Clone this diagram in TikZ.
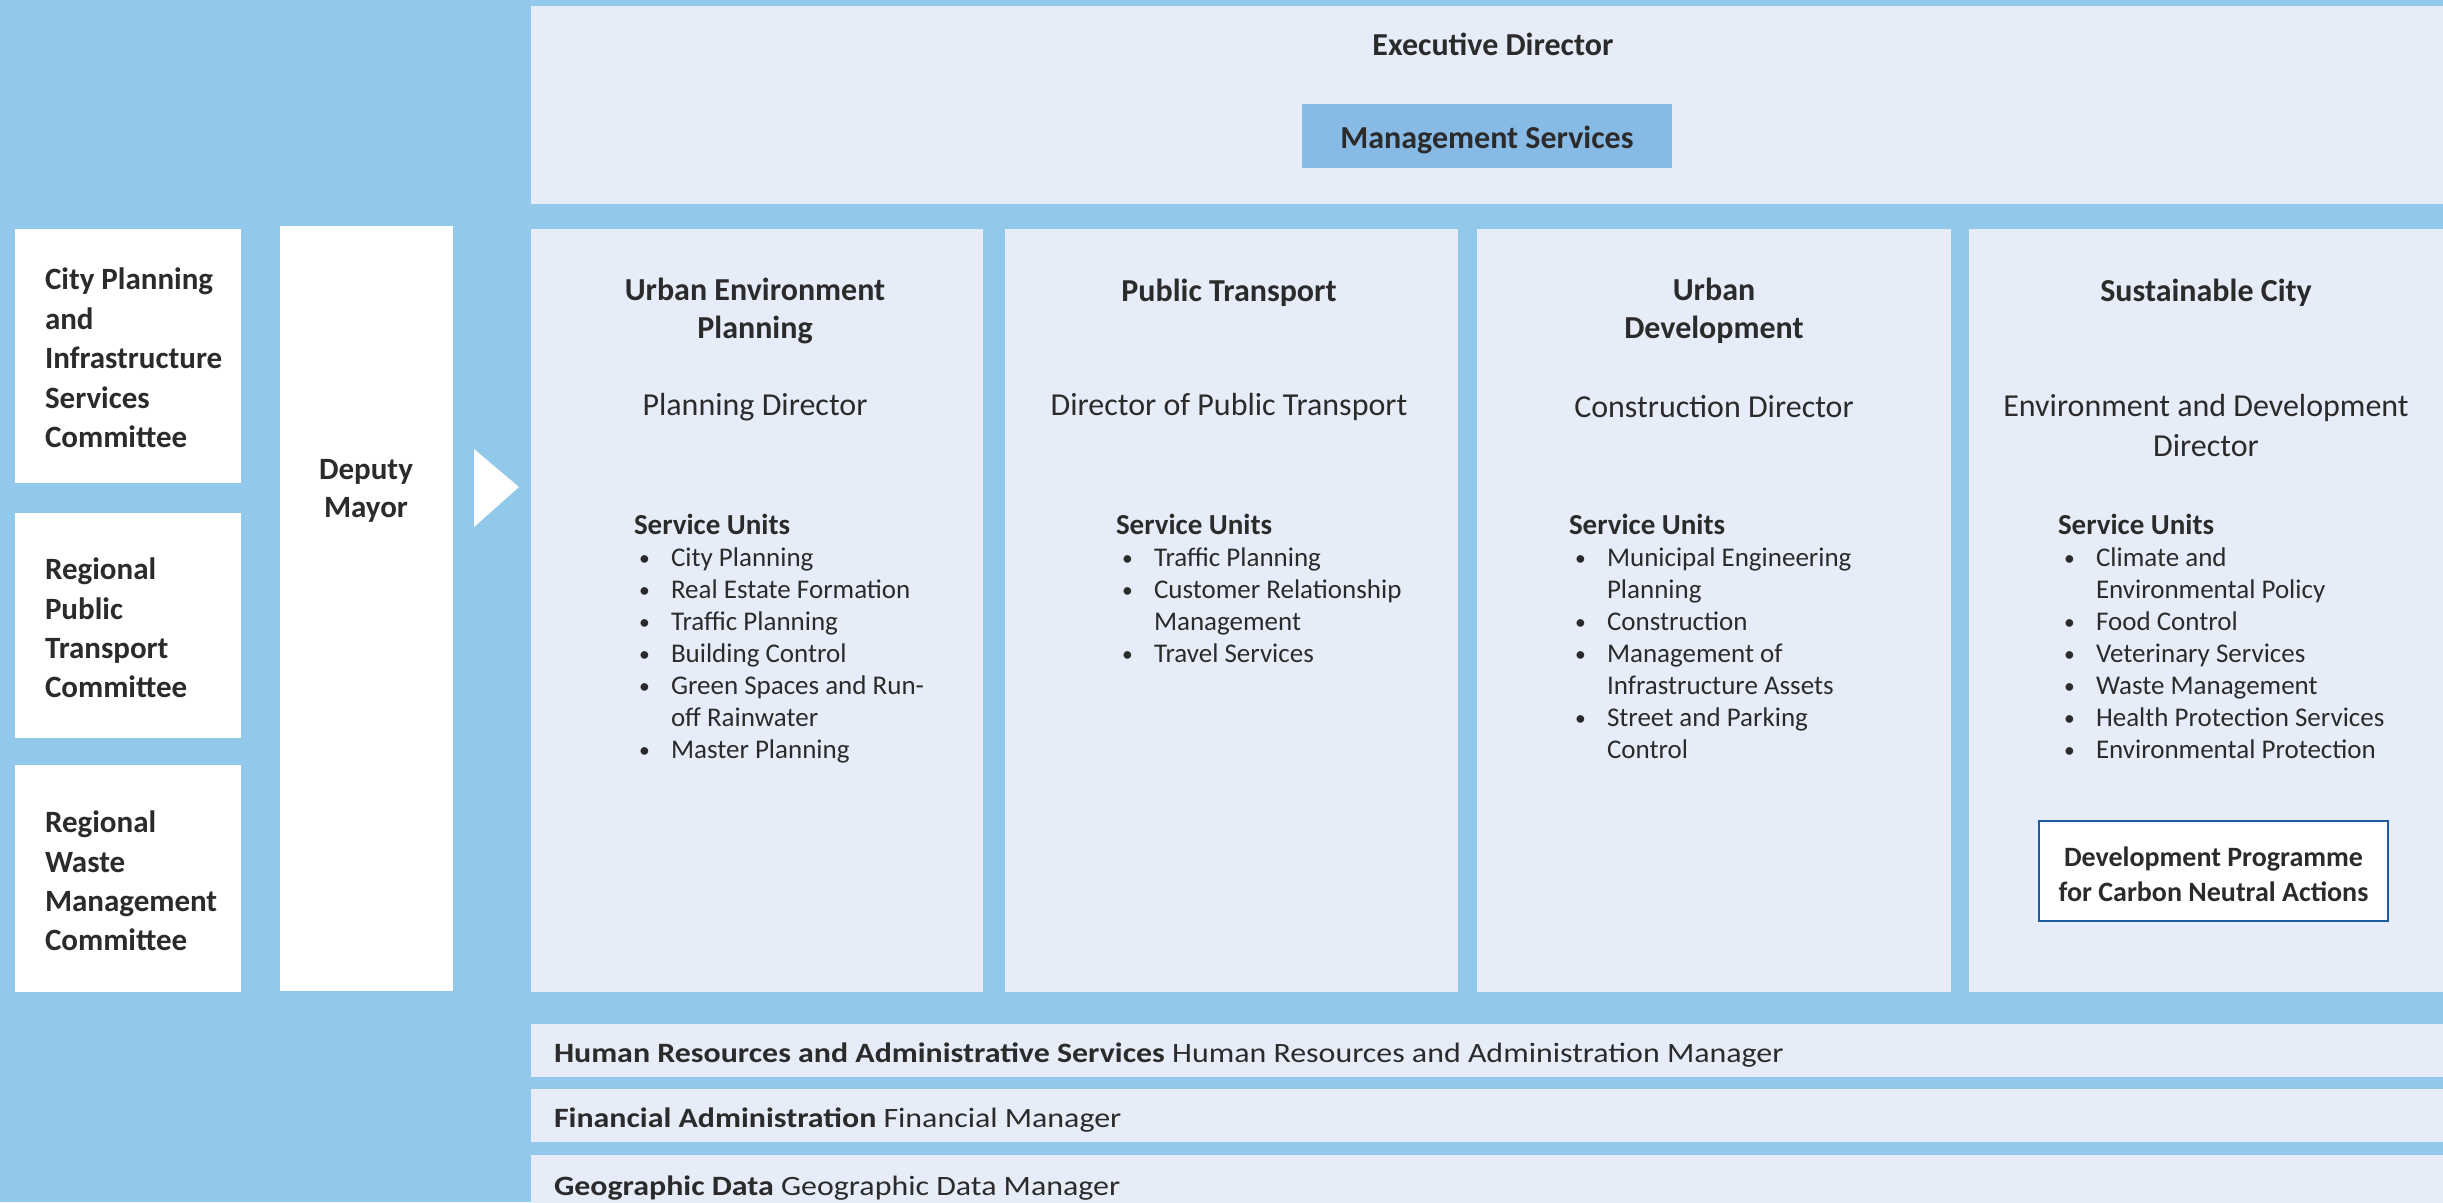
\documentclass[tikz,border=0pt]{standalone}
\usepackage{fontspec}
\usepackage{graphicx}
\setmainfont{Carlito}
\definecolor{bgblue}{HTML}{92C8E9}
\definecolor{panel}{HTML}{E6EDF8}
\definecolor{mgmt}{HTML}{88BAE6}
\definecolor{txtc}{HTML}{2B2B2B}
\definecolor{cbord}{HTML}{1E5AA0}
\newcommand\bitem[1]{\makebox[32pt][l]{\raisebox{1pt}{\scalebox{0.8}{\textbullet}}}#1}
\newcommand\bcont[1]{\hspace*{32pt}#1}
\newcommand\wide[1]{\scalebox{1.14}[1]{#1}}
\tikzset{
  box/.style={rectangle, inner sep=0pt, outer sep=0pt, anchor=north west},
  pbox/.style={box, fill=panel},
  wbox/.style={box, fill=white},
  txt/.style={inner sep=0pt, outer sep=0pt, text=txtc},
  head/.style={txt, align=center, font=\bfseries\fontsize{32}{37.5}\selectfont},
  dir/.style={txt, align=center, font=\fontsize{32}{40}\selectfont},
  su/.style={txt, anchor=north west, font=\bfseries\fontsize{29}{32}\selectfont},
  blist/.style={txt, anchor=north west, align=left, font=\fontsize{27}{32}\selectfont},
  comm/.style={txt, anchor=west, align=left, font=\bfseries\fontsize{31}{39.4}\selectfont},
  rowtxt/.style={txt, anchor=west, font=\fontsize{28}{32}\selectfont},
}
\begin{document}
\begin{tikzpicture}[x=1pt,y=-1pt]
\useasboundingbox (0,0) rectangle (2443,1202);
\fill[bgblue] (0,0) rectangle (2443,1202);

% top executive box
\node[pbox, minimum width=1912pt, minimum height=198pt] (exec) at (531,6) {};
\node[head] (exectxt) at (1493,44) {Executive Director};
\node[box, fill=mgmt, minimum width=370pt, minimum height=64pt] (mgmtbox) at (1302,104) {};
\node[head] (mgmttxt) at ([yshift=-4pt]mgmtbox.center) {Management Services};

% committees
\node[wbox, minimum width=226pt, minimum height=254pt] (c1) at (15,229) {};
\node[wbox, minimum width=226pt, minimum height=225pt] (c2) at (15,513) {};
\node[wbox, minimum width=226pt, minimum height=227pt] (c3) at (15,765) {};
\node[comm] (c1t) at (45,358) {City Planning\\and\\Infrastructure\\Services\\Committee};
\node[comm] (c2t) at (45,628) {Regional\\Public\\Transport\\Committee};
\node[comm] (c3t) at (45,881) {Regional\\Waste\\Management\\Committee};

% deputy mayor
\node[wbox, minimum width=173pt, minimum height=765pt] (dep) at (280,226) {};
\node[head, font=\bfseries\fontsize{31}{38}\selectfont] (deptxt) at (366,491) {Deputy\\Mayor};
\fill[white] (474,449) -- (519,487) -- (474,527) -- cycle;

% columns
\node[pbox, minimum width=452pt, minimum height=763pt] (col1) at (531,229) {};
\node[pbox, minimum width=453pt, minimum height=763pt] (col2) at (1005,229) {};
\node[pbox, minimum width=474pt, minimum height=763pt] (col3) at (1477,229) {};
\node[pbox, minimum width=474pt, minimum height=763pt] (col4) at (1969,229) {};

% column 1
\node[head] (h1) at (755,311) {Urban Environment\\Planning};
\node[dir] (d1) at (755,407) {Planning Director};
\node[su] (s1) at (634,514) {Service Units};
\node[blist] (l1) at (639,548) {\bitem{City Planning}\\\bitem{Real Estate Formation}\\\bitem{Traffic Planning}\\\bitem{Building Control}\\\bitem{Green Spaces and Run-}\\\bcont{off Rainwater}\\\bitem{Master Planning}};

% column 2
\node[head] (h2) at (1229,293) {Public Transport};
\node[dir] (d2) at (1229,407) {Director of Public Transport};
\node[su] (s2) at (1116,514) {Service Units};
\node[blist] (l2) at (1122,548) {\bitem{Traffic Planning}\\\bitem{Customer Relationship}\\\bcont{Management}\\\bitem{Travel Services}};

% column 3
\node[head] (h3) at (1714,311) {Urban\\Development};
\node[dir] (d3) at (1714,407) {Construction Director};
\node[su] (s3) at (1569,514) {Service Units};
\node[blist] (l3) at (1575,548) {\bitem{Municipal Engineering}\\\bcont{Planning}\\\bitem{Construction}\\\bitem{Management of}\\\bcont{Infrastructure Assets}\\\bitem{Street and Parking}\\\bcont{Control}};

% column 4
\node[head] (h4) at (2206,293) {Sustainable City};
\node[dir] (d4) at (2206,426) {Environment and Development\\Director};
\node[su] (s4) at (2058,514) {Service Units};
\node[blist] (l4) at (2064,548) {\bitem{Climate and}\\\bcont{Environmental Policy}\\\bitem{Food Control}\\\bitem{Veterinary Services}\\\bitem{Waste Management}\\\bitem{Health Protection Services}\\\bitem{Environmental Protection}};
\node[box, fill=white, draw=cbord, line width=2pt, minimum width=349pt, minimum height=100pt] (carbon) at (2039,821) {};
\node[head, font=\bfseries\fontsize{28}{35}\selectfont] (carbontxt) at ([yshift=-3pt]carbon.center) {Development Programme\\for Carbon Neutral Actions};

% bottom rows
\node[pbox, minimum width=1912pt, minimum height=53pt] (r1) at (531,1024) {};
\node[pbox, minimum width=1912pt, minimum height=53pt] (r2) at (531,1089) {};
\node[pbox, minimum width=1912pt, minimum height=60pt] (r3) at (531,1155) {};
\node[rowtxt] (r1t) at (554,1055) {\wide{\textbf{Human Resources and Administrative Services} Human Resources and Administration Manager}};
\node[rowtxt] (r2t) at (554,1120) {\wide{\textbf{Financial Administration} Financial Manager}};
\node[rowtxt] (r3t) at (554,1188) {\wide{\textbf{Geographic Data} Geographic Data Manager}};
\end{tikzpicture}
\end{document}
